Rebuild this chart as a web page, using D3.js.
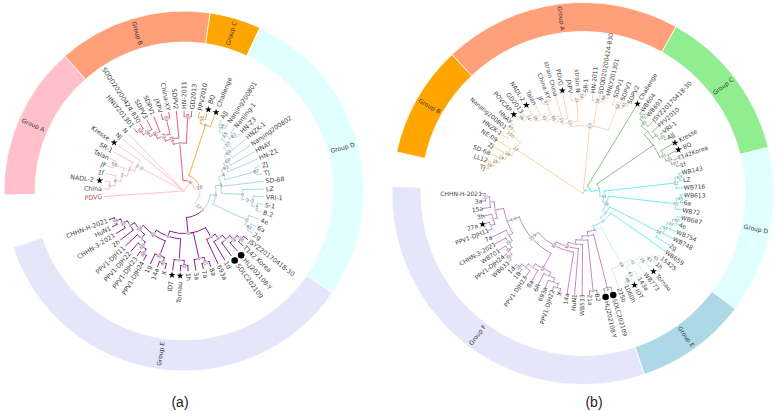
<!DOCTYPE html>
<html><head><meta charset="utf-8">
<script src="https://cdn.jsdelivr.net/npm/d3@7"></script>
<style>
html,body{margin:0;padding:0;background:#fff}
svg{display:block}
text{font-family:"DejaVu Sans",sans-serif}
</style></head><body>
<svg id="chart" width="777" height="411"></svg>
<script>
// ---------- Panel (a) data ----------
const treeA = "(PDVG,((((((China,NADL-2)5,1f)6,(JF,Taian)58)1,SR-1)1,Kresse)3)0,NJ,N,((((((((HNLY201301,SDQD20200424-830)58,SDPV3)28,SDPV1)17,(JXPV,China-XY)59)73,SDPV2)14,(HN-2011,GD2013)24)0,(((PPV2010,BQ)55,Challenge)6,(((((((((((AJJ,Nanjing200801)54,(Nanjing-1,HN-Z3)81)25,HNZK-1)25,Nanjing200802)64,HNAY)60,HN-Z1)92,(ZJ,TJ)87)4,SD-68,(LZ,((VRI-1,(S-1,B.2)5)3)3)0)9,(4e,(6a,2g)61)0)0,((((((JSYZ20170418-30,T142 Korea)58,HLJ202108-Y)29,SDLC202109)1,1d)8,693a)0,((8a,7a)61,3a)0,(((1h,Tornau)42,IDT)0,(((X,14a)45,1g)38,((((PPV1-DJH24,PPV1-DJH23)82,PPV1-DJH22)66,PPV1-DJH11)3,(2h,(CHHN-3-2021,(HuN1,CHHN-H-2021)39)39)4)59)40)0)8)5)12)26)8)";
const groupNamesA = ["Group A","Group B","Group C","Group D","Group E"];
const groupFillsA = ["#ffc0cb","#ffa07a","#ffa500","#e0ffff","#e6e6fa"];
const branchColorsA = ["#ffc4d0","#ec5a8c","#fbb034","#add8e6","#8e1f94"];
const groupFirstTipA = ["China","HNLY201301","PPV2010","AJJ","JSYZ20170418-30"];
const groupLastTipA = ["N","GD2013","Challenge","2g","CHHN-H-2021"];
const starTipsA = ["NADL-2","Kresse","BQ","Challenge","IDT","Tornau"];
const dotTipsA = ["HLJ202108-Y","SDLC202109"];
const redTipsA = ["PDVG"];

// ---------- Panel (b) data ----------
const treeB = "((((((TJ,LL12)18,SD-68)18,ZJ)24,NE-09)26,(HNZK-1,(Nanjing200801,HNAY)85)100)27,(((((((((POVCAP,GD2013)36,NADL-2)24,Taian)36,(JF,China-XY)87)45,strain China)66,PDVG)13,(JXPV,(strain N,SR-1)34)27)12,(HN-2011,(SDQD20200424-830,HNLY201301)88)58,(SDPV1,(SDPV3,SDPV2)65)58)23,(Challenge,((((((WB604,WB603)53,JSYZ20170418-30)81,(PPV2010,(VRI-1,AJJ)25)6)3,(Kresse,(BQ,(T142Korea,1f)27)21)11)4,(((WB143,LZ)53,WB716)12,(((WB613,6a)15,WB72)22,(((((WB687,4e)42,WB754)37,WB748)57,2g)56,(WB659,((((((15425,1h)65,Tornau)43,WB773)78,(143a,(IDT,1060h)86)43)41,225b)48,((SDLC202109,HLJ202108-Y)44,((B2,21a)8,(WB533,(HuN1,(14a,((((((X,PPV1-DJH22)3,693a)3,6R)5,(8a,(PPV1-DJH23,(1B,1d)26)2)1)68,(((((((WB631,PPV1-DJH24)38,WB701)28,CHHN-3-2021)26,7a)2,(((PPV1-DJH11,27a)7,3h)2,(15a,(3a,CHHN-H-2021)22)2)6)9)4)6)33)9)84)11)2)2)2)4)3)1)26)31)";
const groupNamesB = ["Group B","Group A","Group C","Group D","Group E","Group F"];
const groupFillsB = ["#ffa500","#ffa07a","#90ee90","#e0ffff","#add8e6","#e6e6fa"];
const branchColorsB = ["#f8cd78","#fcc8b4","#6db36d","#4deaea","#c8ebe6","#b56cb8"];
const groupFirstTipB = ["TJ","POVCAP","Challenge","WB143","15425","SDLC202109"];
const groupLastTipB = ["HNAY","SDPV2","1f","WB659","225b","CHHN-H-2021"];
const starTipsB = ["POVCAP","NADL-2","PDVG","Challenge","Kresse","BQ","Tornau","IDT","27a"];
const dotTipsB = ["HLJ202108-Y","SDLC202109"];
const redTipsB = [];

const captions = ["(a)","(b)"];

// ---------- Newick parsing ----------
function parseNewick(s){
  let i=0;
  function node(){
    const n={name:"",children:null};
    if(s[i]==="("){
      i++; n.children=[node()];
      while(s[i]===","){i++; n.children.push(node());}
      i++; // ')'
    }
    let st=i;
    while(i<s.length && !",()".includes(s[i])) i++;
    n.name=s.slice(st,i);
    return n;
  }
  return node();
}

const svg=d3.select("#chart");

function drawPanel(cfg){
  const g=svg.append("g").attr("transform",`translate(${cfg.cx},${cfg.cy})`);
  const root=d3.hierarchy(parseNewick(cfg.tree));
  const tips=root.leaves();
  const names=tips.map(d=>d.data.name);
  const angle=d3.scalePoint().domain(names).range(cfg.angleRange);
  const step=angle.step();
  const rad=d3.scaleLinear().domain([root.height,0]).range([0,cfg.tipR]);
  const DEG=Math.PI/180;
  const px=(a,r)=>r*Math.sin(a*DEG), py=(a,r)=>-r*Math.cos(a*DEG);

  // group lookup
  const idx=new Map(names.map((n,i)=>[n,i]));
  const spans=cfg.first.map((f,i)=>[idx.get(f),idx.get(cfg.last[i])]);
  const groupOfTip=i=>spans.findIndex(s=>i>=s[0]&&i<=s[1]);

  root.eachAfter(n=>{
    if(!n.children){
      n.a=angle(n.data.name);
      n.grp=groupOfTip(idx.get(n.data.name));
    }else{
      n.a=(n.children[0].a+n.children[n.children.length-1].a)/2;
      const gs=new Set(n.children.map(c=>c.grp));
      n.grp=gs.size===1?[...gs][0]:-1;
    }
    n.r=rad(n.height);
  });
  const col=n=>n.grp>=0?cfg.branch[n.grp]:cfg.stem;

  // ring
  const ringArc=d3.arc().innerRadius(cfg.ring[0]).outerRadius(cfg.ring[1]);
  spans.forEach((s,i)=>{
    const a0=angle(names[s[0]])-step/2, a1=angle(names[s[1]])+step/2;
    g.append("path").attr("d",ringArc({startAngle:a0*DEG,endAngle:a1*DEG}))
      .attr("fill",cfg.fills[i]).attr("stroke","#fff").attr("stroke-width",0.8);
    const m=(a0+a1)/2, rm=(cfg.ring[0]+cfg.ring[1])/2;
    const flip=((m%360)+360)%360>180;
    g.append("text").text(cfg.groups[i])
      .attr("transform",`translate(${px(m,rm)},${py(m,rm)}) rotate(${flip?m+90:m-90})`)
      .attr("text-anchor","middle").attr("dy","0.35em")
      .attr("font-size",cfg.ringFont).attr("fill","#333");
  });

  // branches
  const lines=g.append("g").attr("fill","none").attr("stroke-width",cfg.lw).attr("stroke-linecap","round");
  root.descendants().forEach(n=>{
    if(n.parent){
      const p=d3.path();
      const r0=n.parent.r, r1=n.children?n.r:cfg.tipR;
      p.moveTo(px(n.a,r0),py(n.a,r0));
      p.lineTo(px(n.a,r1),py(n.a,r1));
      lines.append("path").attr("d",p.toString()).attr("stroke",col(n));
    }
    if(n.children&&n.r>0.5){
      n.children.forEach(c=>{
        if(Math.abs(c.a-n.a)<0.01) return;
        const p=d3.path();
        p.arc(0,0,n.r,(n.a-90)*DEG,(c.a-90)*DEG,c.a<n.a);
        lines.append("path").attr("d",p.toString()).attr("stroke",col(c));
      });
    }
  });

  const rotFor=a=>{
    const m=((a%360)+360)%360;
    return m>180?{rot:a+90,anchor:"end"}:{rot:a-90,anchor:"start"};
  };

  // support values
  root.descendants().filter(n=>n.children&&n.parent&&n.data.name).forEach(n=>{
    const o=rotFor(n.a);
    g.append("text").text(n.data.name)
      .attr("transform",`translate(${px(n.a,n.r)},${py(n.a,n.r)}) rotate(${o.rot})`)
      .attr("text-anchor","middle").attr("dy","0.35em")
      .attr("font-size",cfg.supportFont).attr("fill","#666")
      .attr("stroke","#fff").attr("stroke-width",0.9).attr("paint-order","stroke");
  });

  // tip markers and labels
  const star=d3.symbol(d3.symbolStar).size(cfg.starSize)();
  tips.forEach(t=>{
    const name=t.data.name, a=t.a;
    const isStar=cfg.stars.includes(name), isDot=cfg.dots.includes(name);
    const marked=isStar||isDot;
    if(isStar) g.append("path").attr("d",star).attr("fill","#000")
      .attr("transform",`translate(${px(a,cfg.markR)},${py(a,cfg.markR)})`);
    if(isDot) g.append("circle").attr("r",3.3).attr("fill","#000")
      .attr("cx",px(a,cfg.markR+1)).attr("cy",py(a,cfg.markR+1));
    const r=marked?cfg.markLabelR:cfg.labelR;
    const o=rotFor(a);
    g.append("text").text(name)
      .attr("transform",`translate(${px(a,r)},${py(a,r)}) rotate(${o.rot})`)
      .attr("text-anchor",o.anchor).attr("dy","0.35em")
      .attr("font-size",cfg.labelFont)
      .attr("fill",cfg.red.includes(name)?"#b5514f":"#444");
  });
}

drawPanel({tree:treeA,cx:184,cy:191,angleRange:[-94,249],tipR:80,ring:[149,180],labelR:82,markR:85,markLabelR:91,
  groups:groupNamesA,fills:groupFillsA,branch:branchColorsA,first:groupFirstTipA,last:groupLastTipA,
  stars:starTipsA,dots:dotTipsA,red:redTipsA,stem:"#ffc4d0",lw:1,ringFont:6,supportFont:4.6,labelFont:6.3,starSize:15});
drawPanel({tree:treeB,cx:583,cy:193.5,angleRange:[-75.3,270],tipR:102,ring:[162,191],labelR:101,markR:105,markLabelR:110,
  groups:groupNamesB,fills:groupFillsB,branch:branchColorsB,first:groupFirstTipB,last:groupLastTipB,
  stars:starTipsB,dots:dotTipsB,red:redTipsB,stem:"#4deaea",lw:0.8,ringFont:6,supportFont:4.2,labelFont:6,starSize:15});

svg.selectAll("text.cap").data(captions).enter().append("text").attr("class","cap")
  .text(d=>d).attr("x",(d,i)=>i?594:180).attr("y",407)
  .attr("text-anchor","middle").attr("font-size",14)
  .style("font-family","'Liberation Sans',sans-serif").attr("fill","#222");
</script>
</body></html>
